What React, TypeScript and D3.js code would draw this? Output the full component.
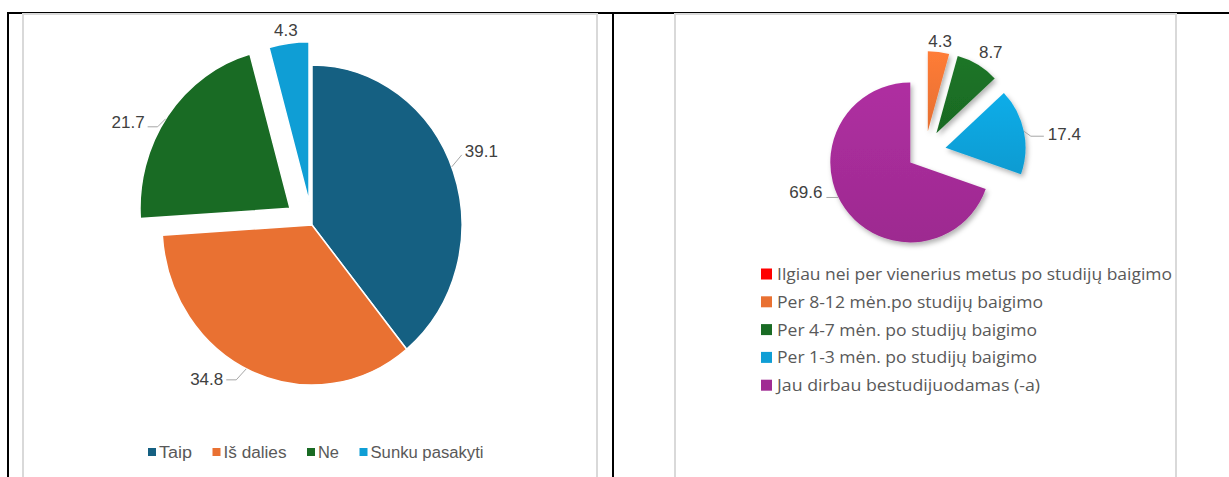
import React from "react";
import * as d3 from "d3";

// ---------- data ----------
const leftCategories = ["Taip", "Iš dalies", "Ne", "Sunku pasakyti"];
const leftValues = [39.1, 34.8, 21.7, 4.3];
const leftLabels = ["39.1", "34.8", "21.7", "4.3"];

const rightCategories = [
  "Ilgiau nei per vienerius metus po studijų baigimo",
  "Per 8-12 mėn.po studijų baigimo",
  "Per 4-7 mėn. po studijų baigimo",
  "Per 1-3 mėn. po studijų baigimo",
  "Jau dirbau bestudijuodamas (-a)",
];
const rightValues = [0, 4.3, 8.7, 17.4, 69.6];
const rightLabels = ["", "4.3", "8.7", "17.4", "69.6"];

// ---------- styles ----------
const leftColors = ["#156082", "#E97132", "#196B24", "#0F9ED5"];
const rightColors = ["#FF0000", "#E97132", "#196B24", "#0F9ED5", "#A02B93"];

const W = 1229;
const H = 477;

const L = { cx: 312, cy: 225, r: 150, ys: 1.067 };
const leftExplode = [0, 0, 27, 22];
const leftLabelSpec = [
  { angle: 68.7, segs: [[10, -12]], t: [13, -15], anchor: "start" },
  { angle: 206, segs: [[-10, 11], [-20, 11]], t: [-23, 11], anchor: "end" },
  { angle: 304, segs: [[-8, 8], [-18, 8]], t: [-21, 4], anchor: "end" },
  { angle: null, segs: [], t: [-3, -13], anchor: "middle" },
];

const R = { cx: 925, cy: 152, r: 80 };
const rightExplode = [0, 21, 22, 21, 18];
const rightLabelSpec = [
  { angle: null, segs: [], t: [0, 0], anchor: "middle" },
  { angle: null, segs: [], t: [1.5, -10], anchor: "middle" },
  { angle: null, segs: [], t: [13, -12], anchor: "middle" },
  { angle: null, segs: [[7, 5], [20, 5]], t: [24, 3.5], anchor: "start" },
  { angle: 244, segs: [[-12, 0]], t: [-16, -5], anchor: "end" },
];

const leftLegendWidths = [33, 63, 21, 113];
const rightLegendWidths = [395, 266, 260, 260, 263];

const labelFont = "'Liberation Sans', Arial, sans-serif";
const legendFontL = "'Liberation Sans Narrow', 'Liberation Sans', Arial, sans-serif";
const legendFontR = "'Open Sans', 'Noto Sans', sans-serif";

const rad = (deg: number) => (deg * Math.PI) / 180;

function slices(values: number[]) {
  return d3
    .pie<number>()
    .sort(null)
    .value((d) => d)(values);
}

export default function App() {
  const arc = d3.arc<d3.PieArcDatum<number>>().innerRadius(0);

  const lp = slices(leftValues);
  const lOff = lp.map((s, i) => {
    const m = (s.startAngle + s.endAngle) / 2;
    return [leftExplode[i] * Math.sin(m), -leftExplode[i] * L.ys * Math.cos(m)];
  });

  const rp = slices(rightValues);
  const rOff = rp.map((s, i) => {
    const m = (s.startAngle + s.endAngle) / 2;
    return [rightExplode[i] * Math.sin(m), -rightExplode[i] * Math.cos(m)];
  });

  const labelEls = (
    pie: d3.PieArcDatum<number>[],
    off: number[][],
    specs: any[],
    labels: string[],
    c: { cx: number; cy: number; r: number },
    ys: number,
    key: string
  ) =>
    pie.map((s, i) => {
      if (!labels[i]) return null;
      const sp = specs[i];
      const a = sp.angle == null ? (s.startAngle + s.endAngle) / 2 : rad(sp.angle);
      const ex = c.cx + off[i][0] + c.r * Math.sin(a);
      const ey = c.cy + off[i][1] - c.r * ys * Math.cos(a);
      const pts = [[ex, ey], ...sp.segs.map((p: number[]) => [ex + p[0], ey + p[1]])];
      return (
        <g key={key + i}>
          {sp.segs.length > 0 && (
            <path
              d={d3.line()(pts as [number, number][]) || ""}
              fill="none"
              stroke="#a6a6a6"
              strokeWidth={1}
            />
          )}
          <text
            x={ex + sp.t[0]}
            y={ey + sp.t[1]}
            textAnchor={sp.anchor}
            dominantBaseline="central"
            fontFamily={labelFont}
            fontSize={17}
            fill="#404040"
          >
            {labels[i]}
          </text>
        </g>
      );
    });

  let lx = 148;
  const leftLegend = leftCategories.map((c, i) => {
    const x = lx;
    lx += 11 + leftLegendWidths[i] + 20.5;
    return (
      <g key={"ll" + i}>
        <rect x={x} y={448} width={8} height={8} fill={leftColors[i]} />
        <text
          x={x + 11}
          y={452}
          dominantBaseline="central"
          fontFamily={legendFontL}
          fontSize={16}
          fill="#595959"
          textLength={leftLegendWidths[i]}
          lengthAdjust="spacingAndGlyphs"
        >
          {c}
        </text>
      </g>
    );
  });

  const rightLegend = rightCategories.map((c, i) => {
    const y = 274 + i * 27.8;
    return (
      <g key={"rl" + i}>
        <rect x={761} y={y - 5.5} width={11} height={11} fill={rightColors[i]} />
        <text
          x={777}
          y={y}
          dominantBaseline="central"
          fontFamily={legendFontR}
          fontSize={16}
          fill="#595959"
          textLength={rightLegendWidths[i]}
          lengthAdjust="spacingAndGlyphs"
        >
          {c}
        </text>
      </g>
    );
  });

  return (
    <svg
      width={W}
      height={H}
      style={{ position: "absolute", left: 0, top: 0, background: "#fff" }}
    >
      <defs>
        {rightColors.map((c, i) => {
          const top = d3.color(c)!.brighter(0.25).formatHex();
          const bot = d3.color(c)!.darker(0.05).formatHex();
          return (
            <linearGradient key={"g" + i} id={"rg" + i} x1="0" y1="0" x2="0" y2="1">
              <stop offset="0%" stopColor={top} />
              <stop offset="100%" stopColor={bot} />
            </linearGradient>
          );
        })}
        <filter id="shadow" x="-20%" y="-20%" width="150%" height="150%">
          <feDropShadow dx="2" dy="3" stdDeviation="2.5" floodColor="#000" floodOpacity="0.3" />
        </filter>
      </defs>

      {/* table borders */}
      <line x1={7} y1={13} x2={W} y2={13} stroke="#000" strokeWidth={2} />
      <line x1={8} y1={12} x2={8} y2={H} stroke="#000" strokeWidth={2} />
      <line x1={613} y1={12} x2={613} y2={H} stroke="#000" strokeWidth={2} />

      {/* chart frames */}
      <rect x={23} y={14} width={574} height={H} fill="#fff" stroke="#d9d9d9" strokeWidth={2} />
      <rect x={675} y={14} width={501} height={H} fill="#fff" stroke="#d9d9d9" strokeWidth={2} />

      {/* left pie */}
      {lp.map((s, i) => (
        <g
          key={"lp" + i}
          transform={`translate(${L.cx + lOff[i][0]},${L.cy + lOff[i][1]}) scale(1,${L.ys})`}
        >
          <path
            d={arc.outerRadius(L.r)(s) || ""}
            fill={leftColors[i]}
            stroke="#fff"
            strokeWidth={1.5}
            vectorEffect="non-scaling-stroke"
          />
        </g>
      ))}
      {labelEls(lp, lOff, leftLabelSpec, leftLabels, L, L.ys, "ll")}
      {leftLegend}

      {/* right pie */}
      <g filter="url(#shadow)">
        {rp.map((s, i) =>
          s.endAngle - s.startAngle > 0 ? (
            <path
              key={"rp" + i}
              transform={`translate(${R.cx + rOff[i][0]},${R.cy + rOff[i][1]})`}
              d={arc.outerRadius(R.r)(s) || ""}
              fill={`url(#rg${i})`}
            />
          ) : null
        )}
      </g>
      {labelEls(rp, rOff, rightLabelSpec, rightLabels, R, 1, "rl")}
      {rightLegend}
    </svg>
  );
}
